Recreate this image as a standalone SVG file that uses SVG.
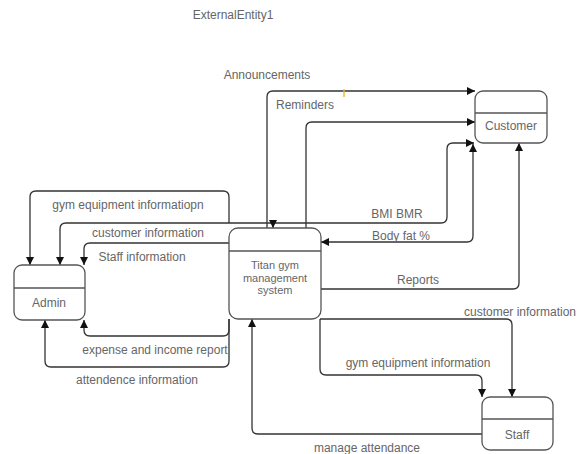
<svg xmlns="http://www.w3.org/2000/svg" width="577" height="454" viewBox="0 0 577 454">
<defs>
<style>
.t{font-family:"Liberation Sans",Arial,sans-serif;font-size:12px;fill:#666}
.n{font-size:11px}
.c{text-anchor:middle}
.box{fill:#fff;stroke:#555;stroke-width:1.3}
.div{stroke:#555;stroke-width:1.3}
.e{fill:none;stroke:#333;stroke-width:1.3}
</style>
<marker id="ah" viewBox="0 0 10 10" refX="10" refY="5" markerWidth="8" markerHeight="8" markerUnits="userSpaceOnUse" orient="auto-start-reverse">
<path d="M0,0 L10,5 L0,10 z" fill="#111"/>
</marker>
</defs>
<rect width="577" height="454" fill="#fff"/>
<text class="t c" x="233" y="19">ExternalEntity1</text>

<g id="connectors">
<path class="e" d="M267,228 V97 Q267,91 273,91 H475" marker-end="url(#ah)"/>
<path class="e" d="M306,228 V128 Q306,122 312,122 H475" marker-end="url(#ah)"/>
<path class="e" d="M229,223 H441 Q447,223 447,217 V149 Q447,143 453,143 H474" marker-end="url(#ah)"/>
<path class="e" d="M229,223 H66 Q60,223 60,229 V265" marker-end="url(#ah)"/>
<path class="e" d="M273,221 V228" marker-end="url(#ah)"/>
<path class="e" d="M229,223 V197 Q229,191 223,191 H36 Q30,191 30,197 V265" marker-end="url(#ah)"/>
<path class="e" d="M229,243 H90 Q84,243 84,249 V265" marker-end="url(#ah)"/>
<path class="e" d="M473,144 V236 Q473,242 467,242 H321" marker-start="url(#ah)" marker-end="url(#ah)"/>
<path class="e" d="M321,289 H513 Q519,289 519,283 V143" marker-end="url(#ah)"/>
<path class="e" d="M320,319 H506 Q512,319 512,325 V397" marker-end="url(#ah)"/>
<path class="e" d="M320,319 V369 Q320,375 326,375 H476 Q482,375 482,381 V397" marker-end="url(#ah)"/>
<path class="e" d="M482,434 H258 Q252,434 252,428 V319" marker-end="url(#ah)"/>
<path class="e" d="M229,319 V330 Q229,336 223,336 H90 Q84,336 84,330 V320" marker-end="url(#ah)"/>
<path class="e" d="M229,319 V361 Q229,367 223,367 H51 Q45,367 45,361 V320" marker-end="url(#ah)"/>
<path d="M344,89 V97" stroke="#f2b233" stroke-width="2" opacity="0.7"/>
<text class="t c" x="267" y="79">Announcements</text>
<text class="t c" x="305" y="109">Reminders</text>
<text class="t c" x="128" y="209">gym equipment informatiopn</text>
<text class="t c" x="148" y="237">customer information</text>
<text class="t c" x="142" y="261">Staff information</text>
<text class="t c" x="397" y="218">BMI BMR</text>
<text class="t c" x="401" y="240">Body fat %</text>
<text class="t c" x="418" y="284">Reports</text>
<text class="t" x="464" y="316">customer information</text>
<text class="t c" x="155" y="354">expense and income report</text>
<text class="t c" x="137" y="384">attendence information</text>
<text class="t c" x="418" y="367">gym equipment information</text>
<text class="t c" x="367" y="452">manage attendance</text>
</g>

<g id="customer">
<rect class="box" x="475" y="91" width="72" height="52" rx="8"/>
<line class="div" x1="475" y1="113" x2="547" y2="113"/>
<text class="t c" x="511" y="130">Customer</text>
</g>
<g id="titan">
<rect class="box" x="229" y="228" width="92" height="91" rx="9"/>
<line class="div" x1="229" y1="251" x2="321" y2="251"/>
<text class="t n c" x="275" y="269">Titan gym</text>
<text class="t n c" x="275" y="281.5">management</text>
<text class="t n c" x="275" y="294">system</text>
</g>
<g id="admin">
<rect class="box" x="14" y="265" width="71" height="55" rx="8"/>
<line class="div" x1="14" y1="288" x2="85" y2="288"/>
<text class="t c" x="49" y="307">Admin</text>
</g>
<g id="staff">
<rect class="box" x="482" y="397" width="71" height="53" rx="8"/>
<line class="div" x1="482" y1="419" x2="553" y2="419"/>
<text class="t c" x="517" y="439">Staff</text>
</g>
</svg>
